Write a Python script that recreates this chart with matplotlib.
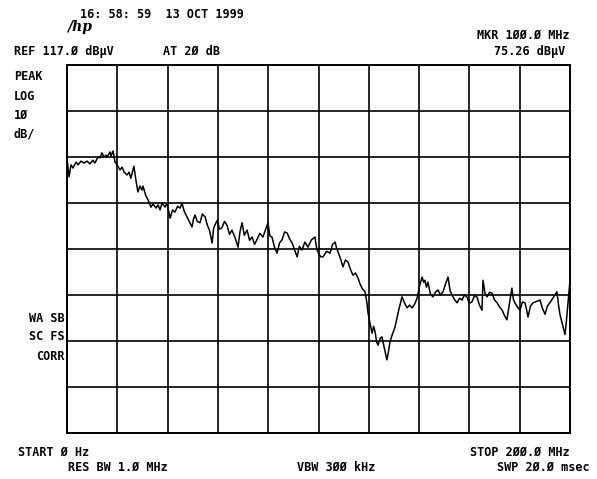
import matplotlib
matplotlib.use("Agg")
import matplotlib.pyplot as plt
import numpy as np

# analyzer settings
ref_level = 117.0      # dBuV, top graticule line
db_per_div = 10.0
n_ydiv = 8
start_mhz = 0.0
stop_mhz = 200.0
n_xdiv = 10

# sweep trace (MHz, dBuV)
freq = [0.0, 0.8, 1.6, 2.4, 3.6, 4.4, 5.6, 6.8, 8.0, 9.1, 10.3, 11.1, 12.3,
        13.1, 13.9, 14.7, 15.5, 15.9, 17.1, 17.5, 18.3, 19.1, 19.9, 21.1,
        21.9, 22.7, 23.9, 24.7, 25.4, 26.6, 27.4, 28.2, 29.0, 29.8, 30.2,
        31.4, 32.2, 33.4, 34.2, 35.4, 36.2, 37.0, 37.8, 39.0, 39.8,
        41.0, 42.0, 42.9, 44.0, 45.0, 45.7, 46.6, 47.7, 48.6, 49.7, 50.3,
        50.9, 51.8, 52.9, 53.8, 54.9, 55.8, 56.7, 57.7, 58.3, 58.8, 59.8,
        60.6, 61.6, 62.6, 63.6, 64.6, 65.6, 66.8, 68.0, 68.8, 69.6, 70.5,
        71.6, 72.6, 73.6, 74.6, 75.5, 76.7, 77.9, 79.0, 79.9, 80.7, 81.5,
        82.5, 83.5, 84.5, 85.5, 86.5, 87.5, 88.5, 89.5, 90.5, 91.5, 92.4,
        93.4, 94.6, 95.8, 97.2, 98.6, 99.3, 100.0, 100.9, 101.8, 103.2,
        104.6, 105.6, 106.6, 107.2, 107.8, 108.8, 109.7, 110.7, 111.7,
        112.7, 113.7, 114.7, 115.7, 116.5, 117.3, 118.0, 118.5, 119.2,
        119.7, 120.5, 121.3, 121.9, 122.5, 123.1, 123.7, 124.5, 125.2,
        126.2, 127.2, 127.8, 128.4, 129.4, 130.4, 131.8, 133.2, 134.2,
        135.2, 136.2, 137.2, 138.2, 139.2, 140.2, 141.2, 141.8, 142.3,
        142.9, 143.5, 144.5, 145.5, 146.5, 147.5, 148.5, 149.5, 150.5,
        151.5, 152.3, 153.1, 154.1, 155.1, 156.1, 157.1, 158.0, 159.0,
        160.0, 161.0, 162.0, 163.0, 164.0, 165.0, 165.4, 166.2, 167.0,
        168.0, 169.0, 170.0, 171.0, 172.0, 173.0, 173.9, 174.9, 175.9,
        176.9, 177.5, 178.1, 179.1, 180.1, 181.1, 182.1, 182.7, 183.3,
        184.3, 185.3, 186.7, 188.1, 189.1, 190.1, 191.0, 192.0, 193.4,
        194.8, 195.4, 196.0, 197.0, 198.0, 198.6, 199.2, 199.6, 200.0]
level = [96.8, 92.7, 95.3, 94.6, 95.9, 95.3, 96.1, 95.7, 96.1, 95.5, 96.3, 95.7,
         97.0, 96.8, 97.9, 97.0, 97.4, 97.0, 98.1, 97.2, 98.3, 95.9, 95.3,
         94.2, 94.8, 93.7, 93.1, 93.7, 92.4, 95.0, 92.0, 89.4, 90.7, 89.8,
         90.7, 88.5, 87.7, 86.1, 86.8, 85.9, 86.6, 85.5, 87.0, 86.1, 87.0,
         83.7, 85.5, 85.0, 86.3, 85.9, 87.0, 85.2, 84.0, 83.0, 81.8, 83.5,
         84.4, 83.0, 82.7, 84.6, 84.0, 82.2, 81.0, 78.3, 81.5, 82.2, 83.3,
         81.3, 81.6, 83.0, 82.2, 80.2, 81.1, 79.5, 77.4, 80.8, 82.7, 80.0,
         81.1, 78.9, 79.6, 78.0, 79.0, 80.4, 79.6, 81.3, 82.7, 79.8, 79.6,
         77.4, 76.1, 78.3, 79.0, 80.7, 80.5, 79.2, 78.3, 76.8, 75.3, 77.6,
         76.8, 78.5, 77.4, 79.0, 79.6, 77.0, 76.1, 75.3, 75.3, 76.5,
         76.1, 78.0, 78.5, 77.2, 76.3, 74.8, 73.1, 74.6, 74.2,
         72.6, 71.3, 71.8, 70.7, 69.4, 68.5, 68.0, 67.7, 65.5,
         63.1, 60.8, 58.7, 60.2, 59.0, 56.8, 56.1, 57.6, 57.9,
         55.4, 52.9, 54.6, 56.8, 58.5, 60.0, 63.5, 66.6, 65.3,
         64.2, 64.8, 64.2, 65.0, 66.3, 69.0, 70.9, 69.8, 70.2,
         68.7, 69.8, 67.2, 66.6, 67.6, 68.1, 67.0, 67.7, 69.4,
         70.9, 68.0, 67.0, 66.0, 65.3, 66.3, 65.9, 67.0, 66.6,
         65.2, 65.5, 66.8, 66.6, 64.8, 63.7, 70.2, 67.4, 66.6,
         67.6, 67.4, 65.9, 65.3, 64.4, 63.7, 62.6, 61.6, 65.0,
         68.5, 66.0, 65.3, 64.4, 63.7, 65.5, 65.3, 63.9, 62.2,
         64.6, 65.3, 65.6, 65.9, 64.0, 62.8, 64.6, 65.3, 66.5,
         67.7, 65.0, 62.8, 60.6, 58.4, 61.5, 65.3, 68.0, 70.2]

font = dict(family="DejaVu Sans Mono", fontweight="bold", fontsize=8.5, color="black")

fig = plt.figure(figsize=(5.97, 4.79), dpi=100)
ax = fig.add_axes([67 / 597, 46 / 479, 503 / 597, 368 / 479])

bottom = ref_level - n_ydiv * db_per_div
ax.set_xlim(start_mhz, stop_mhz)
ax.set_ylim(bottom, ref_level)
ax.set_xticks(np.linspace(start_mhz, stop_mhz, n_xdiv + 1))
ax.set_yticks(np.linspace(bottom, ref_level, n_ydiv + 1))
ax.tick_params(length=0, labelbottom=False, labelleft=False)
ax.grid(True, color="black", linewidth=1.2)
for s in ax.spines.values():
    s.set_linewidth(1.4)

ax.plot(freq, level, color="black", linewidth=1.1)

# screen annotations
fig.text(80 / 597, 1 - 15 / 479, "16: 58: 59  13 OCT 1999", va="center", **font)
fig.text(67 / 597, 1 - 27 / 479, "/hp", va="center", style="italic",
         family="DejaVu Serif", fontsize=10, fontweight="bold")
fig.text(14 / 597, 1 - 51 / 479, "REF 117.\u00d8 dB\u00b5V", va="center", **font)
fig.text(163 / 597, 1 - 51 / 479, "AT 2\u00d8 dB", va="center", **font)
fig.text(570 / 597, 1 - 35 / 479, "MKR 1\u00d8\u00d8.\u00d8 MHz", va="center", ha="right", **font)
fig.text(565 / 597, 1 - 51 / 479, "75.26 dB\u00b5V", va="center", ha="right", **font)

for lab, y in zip(["PEAK", "LOG", "1\u00d8", "dB/"], [77, 96, 115, 134]):
    fig.text(14 / 597, 1 - y / 479, lab, va="center", **font)
for lab, y in zip(["WA SB", "SC FS", "CORR"], [319, 337, 356]):
    fig.text(65 / 597, 1 - y / 479, lab, va="center", ha="right", **font)

fig.text(18 / 597, 1 - 452 / 479, "START \u00d8 Hz", va="center", **font)
fig.text(570 / 597, 1 - 452 / 479, "STOP 2\u00d8\u00d8.\u00d8 MHz", va="center", ha="right", **font)
fig.text(68 / 597, 1 - 467 / 479, "RES BW 1.\u00d8 MHz", va="center", **font)
fig.text(297 / 597, 1 - 467 / 479, "VBW 3\u00d8\u00d8 kHz", va="center", **font)
fig.text(590 / 597, 1 - 467 / 479, "SWP 2\u00d8.\u00d8 msec", va="center", ha="right", **font)

fig.savefig("out.png", dpi=100)
